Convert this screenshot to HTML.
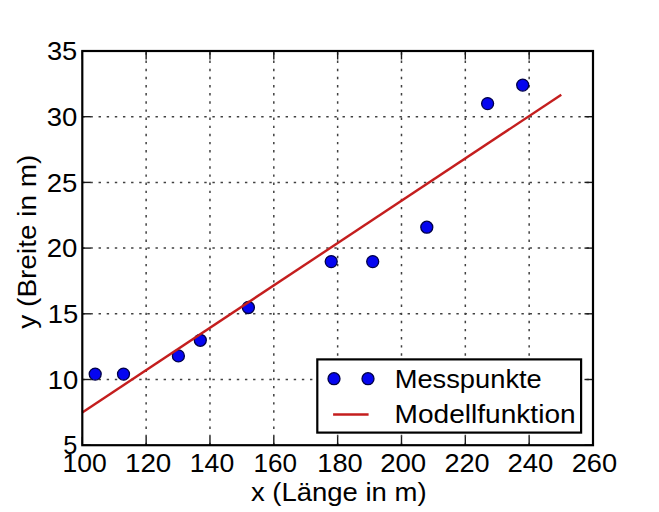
<!DOCTYPE html><html><head><meta charset="utf-8"><style>html,body{margin:0;padding:0;background:#fff;overflow:hidden;}svg{display:block;}text{font-family:"Liberation Sans",sans-serif;fill:#000;}</style></head><body>
<svg width="659" height="512" viewBox="0 0 659 512">
<rect x="0" y="0" width="659" height="512" fill="#fff"/>
<line x1="146.14" y1="445.2" x2="146.14" y2="51.0" stroke="#404040" stroke-width="1.5" stroke-dasharray="2.4 5.732"/>
<line x1="209.97" y1="445.2" x2="209.97" y2="51.0" stroke="#404040" stroke-width="1.5" stroke-dasharray="2.4 5.732"/>
<line x1="273.81" y1="445.2" x2="273.81" y2="51.0" stroke="#404040" stroke-width="1.5" stroke-dasharray="2.4 5.732"/>
<line x1="337.65" y1="445.2" x2="337.65" y2="51.0" stroke="#404040" stroke-width="1.5" stroke-dasharray="2.4 5.732"/>
<line x1="401.49" y1="445.2" x2="401.49" y2="51.0" stroke="#404040" stroke-width="1.5" stroke-dasharray="2.4 5.732"/>
<line x1="465.32" y1="445.2" x2="465.32" y2="51.0" stroke="#404040" stroke-width="1.5" stroke-dasharray="2.4 5.732"/>
<line x1="529.16" y1="445.2" x2="529.16" y2="51.0" stroke="#404040" stroke-width="1.5" stroke-dasharray="2.4 5.732"/>
<line x1="82.3" y1="379.50" x2="593.0" y2="379.50" stroke="#404040" stroke-width="1.5" stroke-dasharray="2.4 5.732"/>
<line x1="82.3" y1="313.80" x2="593.0" y2="313.80" stroke="#404040" stroke-width="1.5" stroke-dasharray="2.4 5.732"/>
<line x1="82.3" y1="248.10" x2="593.0" y2="248.10" stroke="#404040" stroke-width="1.5" stroke-dasharray="2.4 5.732"/>
<line x1="82.3" y1="182.40" x2="593.0" y2="182.40" stroke="#404040" stroke-width="1.5" stroke-dasharray="2.4 5.732"/>
<line x1="82.3" y1="116.70" x2="593.0" y2="116.70" stroke="#404040" stroke-width="1.5" stroke-dasharray="2.4 5.732"/>
<line x1="82.30" y1="445.2" x2="82.30" y2="436.7" stroke="#1a1a1a" stroke-width="1.4"/>
<line x1="82.30" y1="51.0" x2="82.30" y2="59.5" stroke="#1a1a1a" stroke-width="1.4"/>
<line x1="146.14" y1="445.2" x2="146.14" y2="436.7" stroke="#1a1a1a" stroke-width="1.4"/>
<line x1="146.14" y1="51.0" x2="146.14" y2="59.5" stroke="#1a1a1a" stroke-width="1.4"/>
<line x1="209.97" y1="445.2" x2="209.97" y2="436.7" stroke="#1a1a1a" stroke-width="1.4"/>
<line x1="209.97" y1="51.0" x2="209.97" y2="59.5" stroke="#1a1a1a" stroke-width="1.4"/>
<line x1="273.81" y1="445.2" x2="273.81" y2="436.7" stroke="#1a1a1a" stroke-width="1.4"/>
<line x1="273.81" y1="51.0" x2="273.81" y2="59.5" stroke="#1a1a1a" stroke-width="1.4"/>
<line x1="337.65" y1="445.2" x2="337.65" y2="436.7" stroke="#1a1a1a" stroke-width="1.4"/>
<line x1="337.65" y1="51.0" x2="337.65" y2="59.5" stroke="#1a1a1a" stroke-width="1.4"/>
<line x1="401.49" y1="445.2" x2="401.49" y2="436.7" stroke="#1a1a1a" stroke-width="1.4"/>
<line x1="401.49" y1="51.0" x2="401.49" y2="59.5" stroke="#1a1a1a" stroke-width="1.4"/>
<line x1="465.32" y1="445.2" x2="465.32" y2="436.7" stroke="#1a1a1a" stroke-width="1.4"/>
<line x1="465.32" y1="51.0" x2="465.32" y2="59.5" stroke="#1a1a1a" stroke-width="1.4"/>
<line x1="529.16" y1="445.2" x2="529.16" y2="436.7" stroke="#1a1a1a" stroke-width="1.4"/>
<line x1="529.16" y1="51.0" x2="529.16" y2="59.5" stroke="#1a1a1a" stroke-width="1.4"/>
<line x1="593.00" y1="445.2" x2="593.00" y2="436.7" stroke="#1a1a1a" stroke-width="1.4"/>
<line x1="593.00" y1="51.0" x2="593.00" y2="59.5" stroke="#1a1a1a" stroke-width="1.4"/>
<line x1="82.3" y1="445.20" x2="90.8" y2="445.20" stroke="#1a1a1a" stroke-width="1.4"/>
<line x1="593.0" y1="445.20" x2="584.5" y2="445.20" stroke="#1a1a1a" stroke-width="1.4"/>
<line x1="82.3" y1="379.50" x2="90.8" y2="379.50" stroke="#1a1a1a" stroke-width="1.4"/>
<line x1="593.0" y1="379.50" x2="584.5" y2="379.50" stroke="#1a1a1a" stroke-width="1.4"/>
<line x1="82.3" y1="313.80" x2="90.8" y2="313.80" stroke="#1a1a1a" stroke-width="1.4"/>
<line x1="593.0" y1="313.80" x2="584.5" y2="313.80" stroke="#1a1a1a" stroke-width="1.4"/>
<line x1="82.3" y1="248.10" x2="90.8" y2="248.10" stroke="#1a1a1a" stroke-width="1.4"/>
<line x1="593.0" y1="248.10" x2="584.5" y2="248.10" stroke="#1a1a1a" stroke-width="1.4"/>
<line x1="82.3" y1="182.40" x2="90.8" y2="182.40" stroke="#1a1a1a" stroke-width="1.4"/>
<line x1="593.0" y1="182.40" x2="584.5" y2="182.40" stroke="#1a1a1a" stroke-width="1.4"/>
<line x1="82.3" y1="116.70" x2="90.8" y2="116.70" stroke="#1a1a1a" stroke-width="1.4"/>
<line x1="593.0" y1="116.70" x2="584.5" y2="116.70" stroke="#1a1a1a" stroke-width="1.4"/>
<line x1="82.3" y1="51.00" x2="90.8" y2="51.00" stroke="#1a1a1a" stroke-width="1.4"/>
<line x1="593.0" y1="51.00" x2="584.5" y2="51.00" stroke="#1a1a1a" stroke-width="1.4"/>
<circle cx="95.2" cy="374.1" r="6.0" fill="#0505f0" stroke="#000048" stroke-width="1.3"/>
<circle cx="123.5" cy="374.1" r="6.0" fill="#0505f0" stroke="#000048" stroke-width="1.3"/>
<circle cx="178.4" cy="355.9" r="6.0" fill="#0505f0" stroke="#000048" stroke-width="1.3"/>
<circle cx="200.3" cy="340.3" r="6.0" fill="#0505f0" stroke="#000048" stroke-width="1.3"/>
<circle cx="248.4" cy="307.5" r="6.0" fill="#0505f0" stroke="#000048" stroke-width="1.3"/>
<circle cx="331.2" cy="261.6" r="6.0" fill="#0505f0" stroke="#000048" stroke-width="1.3"/>
<circle cx="372.7" cy="261.6" r="6.0" fill="#0505f0" stroke="#000048" stroke-width="1.3"/>
<circle cx="426.8" cy="227.2" r="6.0" fill="#0505f0" stroke="#000048" stroke-width="1.3"/>
<circle cx="487.6" cy="103.6" r="6.0" fill="#0505f0" stroke="#000048" stroke-width="1.3"/>
<circle cx="522.7" cy="85.1" r="6.0" fill="#0505f0" stroke="#000048" stroke-width="1.3"/>
<line x1="82.3" y1="412.4" x2="561.3" y2="94.8" stroke="#c41e1e" stroke-width="2.4"/>
<rect x="82.3" y="51.0" width="510.70" height="394.20" fill="none" stroke="#000" stroke-width="2.2"/>
<rect x="317.3" y="359.4" width="263.8" height="73.2" fill="#fff" stroke="#000" stroke-width="2.2"/>
<circle cx="334" cy="378.7" r="6.0" fill="#0505f0" stroke="#000048" stroke-width="1.3"/>
<circle cx="368" cy="378.7" r="6.0" fill="#0505f0" stroke="#000048" stroke-width="1.3"/>
<line x1="333.1" y1="414.5" x2="368.6" y2="414.5" stroke="#c41e1e" stroke-width="2.4"/>
<text transform="matrix(1.0704 0 0 1 394.66 387.50)" font-size="25.5">Messpunkte</text>
<text transform="matrix(1.1011 0 0 1 394.60 423.30)" font-size="25.5">Modellfunktion</text>
<text transform="matrix(0.9917 0 0 1 63.21 454.40)" font-size="25.5">5</text>
<text transform="matrix(1.0772 0 0 1 47.65 388.70)" font-size="25.5">10</text>
<text transform="matrix(1.0772 0 0 1 47.65 323.00)" font-size="25.5">15</text>
<text transform="matrix(1.0808 0 0 1 46.65 257.30)" font-size="25.5">20</text>
<text transform="matrix(1.0808 0 0 1 46.65 191.60)" font-size="25.5">25</text>
<text transform="matrix(1.0781 0 0 1 46.72 125.90)" font-size="25.5">30</text>
<text transform="matrix(1.0705 0 0 1 46.93 60.20)" font-size="25.5">35</text>
<text transform="matrix(1.0405 0 0 1 62.42 472.00)" font-size="25.5">100</text>
<text transform="matrix(1.0911 0 0 1 124.92 472.00)" font-size="25.5">120</text>
<text transform="matrix(1.0430 0 0 1 189.81 472.00)" font-size="25.5">140</text>
<text transform="matrix(1.0228 0 0 1 253.45 472.00)" font-size="25.5">160</text>
<text transform="matrix(1.0684 0 0 1 317.26 472.00)" font-size="25.5">180</text>
<text transform="matrix(1.0832 0 0 1 380.15 472.00)" font-size="25.5">200</text>
<text transform="matrix(1.0609 0 0 1 444.47 472.00)" font-size="25.5">220</text>
<text transform="matrix(1.0807 0 0 1 507.45 472.00)" font-size="25.5">240</text>
<text transform="matrix(1.0683 0 0 1 571.66 472.00)" font-size="25.5">260</text>
<text transform="matrix(1.0784 0 0 1 250.93 500.60)" font-size="25.5">x (Länge in m)</text>
<text transform="matrix(0 -1.0975 1 0 36.20 328.70)" font-size="25.5">y (Breite in m)</text>
</svg></body></html>
